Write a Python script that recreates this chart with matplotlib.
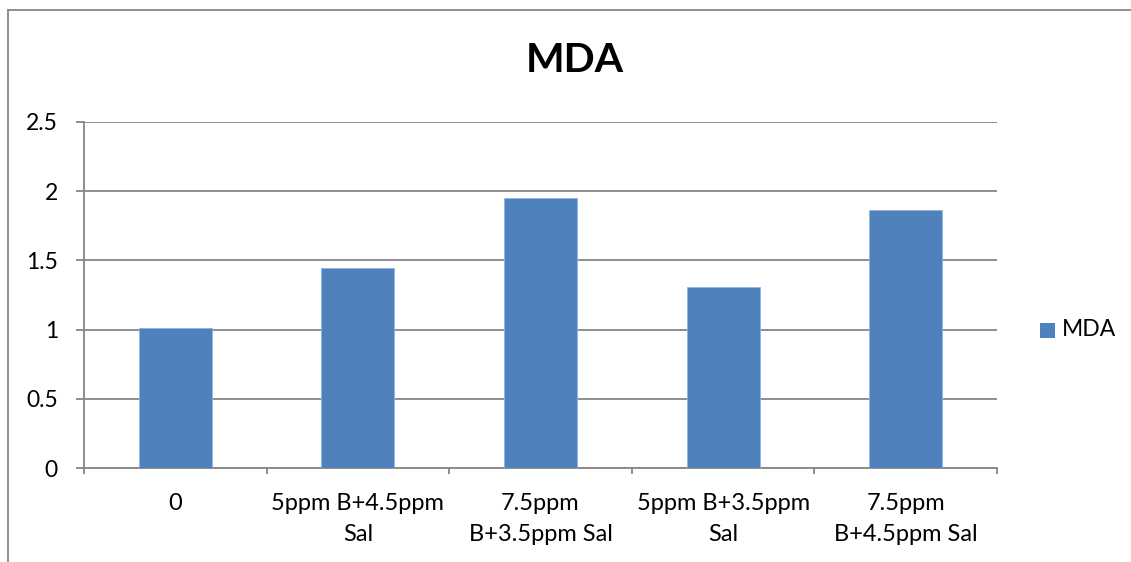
import matplotlib
matplotlib.use("Agg")
import matplotlib.pyplot as plt
from matplotlib.lines import Line2D
from matplotlib.patches import Rectangle

categories = ["0", "5ppm B+4.5ppm\nSal", "7.5ppm\nB+3.5ppm Sal",
              "5ppm B+3.5ppm\nSal", "7.5ppm\nB+4.5ppm Sal"]
mda = [1.01, 1.445, 1.95, 1.31, 1.86]
yticks = [0, 0.5, 1, 1.5, 2, 2.5]
ytick_labels = ["0", "0.5", "1", "1.5", "2", "2.5"]

plt.rcParams['font.family'] = ['Lato', 'DejaVu Sans']

W, H = 1131, 562
fig = plt.figure(figsize=(W / 100, H / 100), dpi=100)
ax = fig.add_axes([84 / W, 1 - 468.3 / H, (997 - 84) / W, (468.3 - 121.7) / H])

bar_color = "#4F81BD"
x = list(range(len(categories)))
ax.bar(x, mda, width=0.4, color=bar_color, edgecolor="#8EB4E3", linewidth=0.6,
       zorder=3, label="MDA")

ax.set_xlim(-0.5, len(categories) - 0.5)
ax.set_ylim(0, 2.5)
ax.set_yticks(yticks)
ax.set_yticklabels(ytick_labels, fontsize=16.5)
ax.yaxis.grid(True, color="#868686", linewidth=1.3, zorder=0)
ax.set_axisbelow(True)

for s in ["top", "right"]:
    ax.spines[s].set_visible(False)
for s in ["left", "bottom"]:
    ax.spines[s].set_color("#868686")
    ax.spines[s].set_linewidth(1.3)

ax.tick_params(axis="y", length=5.8, color="#868686", width=1.3, pad=13)
ax.set_xticks([i - 0.5 for i in range(len(categories) + 1)])
ax.set_xticklabels([])
ax.tick_params(axis="x", length=4.5, color="#868686", width=1.3)
ax.set_xticks(x, minor=True)
ax.set_xticklabels(categories, minor=True, fontsize=17, linespacing=1.55)
ax.tick_params(axis="x", which="minor", length=0, pad=18)

fig.text(575 / W, 1 - 60 / H, "MDA", fontsize=29.5, fontweight="bold",
         ha="center", va="center")

# legend
fig.patches.append(Rectangle((1040 / W, 1 - 338 / H), 15 / W, 15 / H,
                             transform=fig.transFigure, facecolor=bar_color,
                             edgecolor="none"))
fig.text(1062 / W, 1 - 330 / H, "MDA", fontsize=16.5, ha="left", va="center")

# chart border (partially cropped)
fig.lines.append(Line2D([8 / W, 8 / W], [0, 1 - 10 / H], transform=fig.transFigure,
                        color="#878787", linewidth=1.3))
fig.lines.append(Line2D([8 / W, 1], [1 - 10 / H, 1 - 10 / H], transform=fig.transFigure,
                        color="#878787", linewidth=1.3))

fig.savefig("out.png", dpi=100, facecolor="white")
